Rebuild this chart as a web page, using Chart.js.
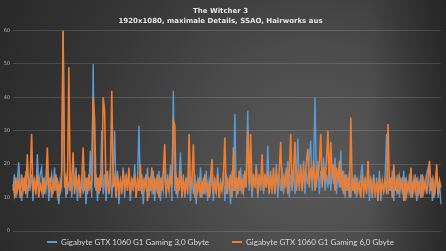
<!DOCTYPE html>
<html>
<head>
<meta charset="utf-8">
<script src="https://cdn.jsdelivr.net/npm/chart.js@4.4.1/dist/chart.umd.min.js"></script>
<style>
html,body{margin:0;padding:0;background:#333;}
#wrap{width:446px;height:251px;position:relative;}
</style>
</head>
<body>
<div id="wrap"><canvas id="c" width="446" height="251"></canvas></div>
<script>
const titleLines = ['The Witcher 3', '1920x1080, maximale Details, SSAO, Hairworks aus'];
const seriesNames = ['Gigabyte GTX 1060 G1 Gaming 3,0 Gbyte', 'Gigabyte GTX 1060 G1 Gaming 6,0 Gbyte'];
const yTicks = [0, 10, 20, 30, 40, 50, 60];

// Frametimes (ms), 3 GB card
const gb3 = [
12,17,10,15,20.6,13,9,16,12,18,10,15,13,17,9,16,11,23,13,17,
19,10,15,12,18,9,14,17,11,19,12,16,8,15,13,60,17,10,15,13,
18,10,16,13,19,9,15,12,17,11,18,8,16,12,24,10,50,13,17,9,
16,12,30,11,17,9,15,13,19,10,16,30,12,18,8,15,13,19,10,17,
13,18,9,16,12,20,10,15,31.5,12,17,8,16,13,19,10,15,12,18,9,
16,11,18,9,15,12,19,10,17,13,20,9,42,12,17,10,15,23.5,11,17,
10,15,12,18,9,16,11,17,8,15,12,19,10,16,11,18,9,15,12,17,
9,16,11,19,10,15,13,18,9,17,11,16,8,18,12,35,10,16,12,19,
11,17,13,19,36,12,18,10,16,14,20,10,17,12,19,11,16,13,25.5,12,
18,11,16,13,20,10,17,12,19,11,16,13,21,10,17,12,19,11,16,27.7,
12,18,13,21,11,17,14,22,27,12,19,40,13,21,11,18,14,22,12,17,
13,21,12,18,14,22,11,17,13,24,12,18,10,17,12,18,10,16,12,17,
10,15,12,17,20,10,16,12,18,9,15,12,17,10,16,11,18,9,14,12,
17,29,11,16,12,18,9,15,12,17,10,16,11,18,9,15,12,17,10,14,
12,17,9,15,12,17,10,15,13,17,19,11,16,9,15,12,17,10,14,8
];

// Frametimes (ms), 6 GB card
const gb6 = [
14,11,16,12,15,10,17,12,15,11,23,12,16,29,11,15,12,17,10,14,
12,16,11,15,25,12,16,10,15,13,17,11,14,12,18,60,13,16,11,49,
12,15,23.6,11,16,13,17,10,15,25,12,16,11,17,13,15,40,33.7,12,16,
11,17,13,40,36,12,18,11,15,42,13,16,10,17,12,15,11,18,13,16,
12,19,11,15,13,17,10,16,12,20,11,15,13,17,9,16,12,19,11,15,
13,17,10,16,12,18,26,11,15,12,17,13,33,31.8,11,16,12,18,10,15,
12,16,11,29,13,15,26,10,14,12,16,10,15,11,17,12,14,10,16,21.5,
11,15,12,17,10,14,12,16,28,11,15,13,17,10,25,12,16,11,18,13,
15,12,18,13,30,14,29,12,17,13,19,11,16,14,23,12,17,13,18,11,
16,13,19,11,17,14,18,26.7,12,16,14,19,11,17,29,13,18,26.7,12,17,
14,20,12,18,15,21,24.6,13,19,15,21,12,18,16,20,29,13,19,15,21,
30,14,26.7,16,20,12,19,15,21,13,18,11,17,12,16,10,34,12,15,11,
16,12,14,10,17,12,15,11,21,13,15,10,16,12,14,9,16,11,15,12,
15,11,32,12,16,10,20,12,15,11,16,13,15,9,16,11,14,12,19,10,
15,12,16,11,14,10,17,12,15,11,16,21,12,15,10,14,20,11,15,13
];

const frames = gb6.map((_, i) => i + 1);

// Legend: keep wide item spacing but a compact box
const LEG_H = 20, LEG_SHIFT = 16;
if (Chart.Legend && Chart.Legend._element) {
  const L = Chart.Legend._element;
  const oFit = L.prototype.fit;
  L.prototype.fit = function () { oFit.call(this); if (this.isHorizontal()) this.height = LEG_H; };
  const oDraw = L.prototype._draw;
  L.prototype._draw = function () { const t = this.top; this.top = t - LEG_SHIFT; oDraw.call(this); this.top = t; };
}

const bgPlugin = {
  id: 'bg',
  beforeDraw(chart) {
    const ctx = chart.ctx, w = chart.width, h = chart.height;
    ctx.save();
    const g = ctx.createRadialGradient(310, 160, 0, 310, 160, 330);
    g.addColorStop(0, '#5a5a5a');
    g.addColorStop(0.35, '#4b4b4b');
    g.addColorStop(0.7, '#363636');
    g.addColorStop(1, '#2b2b2b');
    ctx.fillStyle = g;
    ctx.fillRect(0, 0, w, h);
    const l = ctx.createLinearGradient(370, 0, 446, 0);
    l.addColorStop(0, 'rgba(20,20,20,0)');
    l.addColorStop(1, 'rgba(20,20,20,0.55)');
    ctx.fillStyle = l;
    ctx.fillRect(0, 0, w, h);
    ctx.restore();
  }
};

new Chart(document.getElementById('c'), {
  type: 'line',
  data: {
    labels: frames,
    datasets: [
      { label: seriesNames[1], data: gb6, borderColor: '#ed7d31', backgroundColor: '#ed7d31', borderWidth: 1.6, pointRadius: 0, tension: 0 },
      { label: seriesNames[0], data: gb3, borderColor: '#5b9bd5', backgroundColor: '#5b9bd5', borderWidth: 1.4, pointRadius: 0, tension: 0 }
    ]
  },
  options: {
    responsive: false,
    animation: false,
    devicePixelRatio: 1,
    layout: { padding: { left: 0, right: 5, top: 0, bottom: 0 } },
    plugins: {
      title: {
        display: true,
        text: titleLines,
        color: '#e6e6e6',
        font: { family: 'DejaVu Sans', size: 7, weight: 'bold', lineHeight: 1.4 },
        padding: { top: 6, bottom: 5 }
      },
      legend: {
        position: 'bottom',
        reverse: true,
        labels: {
          color: '#d9d9d9',
          font: { family: 'Lato', size: 8 },
          usePointStyle: true,
          pointStyle: 'line',
          pointStyleWidth: 10,
          boxHeight: 8,
          padding: 23,
          generateLabels(chart) {
            const items = Chart.defaults.plugins.legend.labels.generateLabels(chart);
            items.forEach(it => { it.lineWidth = 2; it.pointStyle = 'line'; });
            return items;
          }
        }
      },
      tooltip: { enabled: false }
    },
    scales: {
      x: {
        display: true,
        offset: false,
        grid: { display: false, drawTicks: false },
        border: { display: false },
        ticks: { display: false }
      },
      y: {
        min: 0,
        max: 60,
        afterFit(s) { s.width = 13; },
        afterBuildTicks(s) { s.ticks = yTicks.map(v => ({ value: v })); },
        grid: { color: 'rgba(255,255,255,0.13)', lineWidth: 1, drawTicks: false },
        border: { display: false },
        ticks: { color: '#b0b0b0', font: { family: 'DejaVu Sans', size: 5 }, padding: 3 }
      }
    }
  },
  plugins: [bgPlugin]
});
</script>
</body>
</html>
